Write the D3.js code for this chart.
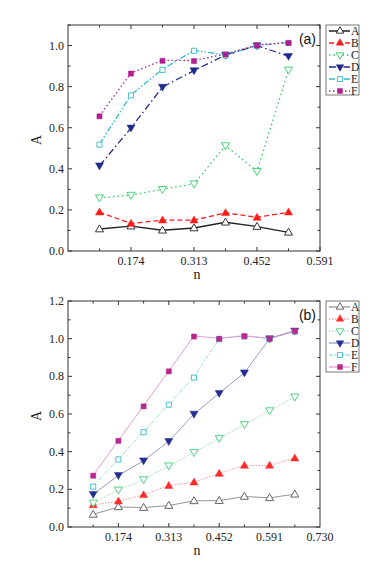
<!DOCTYPE html>
<html lang="en">
<head>
  <meta charset="UTF-8">
  <title>A vs n</title>
  <script src="https://d3js.org/d3.v7.min.js"></script>
  <style>
    body { margin: 0; background: #fff; }
    svg { display: block; }
    .tick-label { font-family: 'Liberation Serif', 'Times New Roman', serif; font-size: 12px; fill: #222; }
    .leg-label { font-family: 'Liberation Serif', serif; font-size: 11.5px; fill: #222; }
    .panel-tag { font-family: 'Liberation Sans', Arial, sans-serif; font-size: 14px; fill: #111; }
  </style>
</head>
<body>
<div id="chart"></div>
<script>
// series names
const seriesNames = ["A", "B", "C", "D", "E", "F"];

// panel (a) data
const nA = [0.1045, 0.174, 0.2435, 0.313, 0.3825, 0.452, 0.5215];
const aA = [0.107, 0.121, 0.101, 0.112, 0.140, 0.119, 0.091];
const aB = [0.189, 0.134, 0.150, 0.150, 0.186, 0.164, 0.189];
const aC = [0.259, 0.272, 0.300, 0.327, 0.513, 0.388, 0.881];
const aD = [0.415, 0.599, 0.798, 0.878, 0.954, 1.000, 0.948];
const aE = [0.520, 0.760, 0.884, 0.977, 0.954, 1.000, 1.015];
const aF = [0.658, 0.866, 0.928, 0.927, 0.959, 1.003, 1.015];

// panel (b) data
const nB = [0.1045, 0.174, 0.2435, 0.313, 0.3825, 0.452, 0.5215, 0.591, 0.6605];
const bA = [0.067, 0.107, 0.103, 0.114, 0.139, 0.140, 0.162, 0.155, 0.174];
const bB = [0.117, 0.137, 0.171, 0.220, 0.238, 0.284, 0.327, 0.327, 0.366];
const bC = [0.128, 0.197, 0.252, 0.325, 0.396, 0.472, 0.544, 0.618, 0.691];
const bD = [0.174, 0.274, 0.352, 0.455, 0.600, 0.710, 0.819, 1.000, 1.041];
const bE = [0.217, 0.361, 0.506, 0.652, 0.796, 1.000, 1.014, 1.000, 1.040];
const bF = [0.275, 0.460, 0.643, 0.829, 1.014, 1.002, 1.016, 1.002, 1.043];

// tick labels
const xTicksA = [0.174, 0.313, 0.452, 0.591];
const xTicksB = [0.174, 0.313, 0.452, 0.591, 0.730];
const yTicksA = [0.0, 0.2, 0.4, 0.6, 0.8, 1.0];
const yTicksB = [0.0, 0.2, 0.4, 0.6, 0.8, 1.0, 1.2];

// marker / colour per series
const colorsA = ["#222222", "#ff1a1a", "#33cc66", "#1f2a8a", "#33bbcc", "#b01f8f"];
const colorsB = ["#555555", "#ff2a2a", "#44cc77", "#232e92", "#33bbcc", "#b8278f"];
const lineColorsB = ["#666666", "#ff6a6a", "#66d690", "#6a70b8", "#5cc8d6", "#e070c0"];
const symbols = [d3.symbolTriangle, d3.symbolTriangle, d3.symbolTriangle, d3.symbolTriangle, d3.symbolSquare, d3.symbolSquare];
const filled = [false, true, false, true, false, true];
const flipped = [false, false, true, true, false, false];
const dashA = [null, "5,3", "1.5,3", "7,3,1.5,3", "6,2,1.5,2,1.5,2", "1.5,2.5"];
const dashB = [null, "1.5,1.5", "1.5,1.5", null, "4,1.5,1.5,1.5", null];

const W = 374, H = 562;
const svg = d3.select("#chart").append("svg").attr("width", W).attr("height", H);

function drawPanel(cfg) {
  const g = svg.append("g");
  const x = d3.scaleLinear().domain(cfg.xDomain).range([cfg.left, cfg.right]);
  const y = d3.scaleLinear().domain(cfg.yDomain).range([cfg.bottom, cfg.top]);

  // frame
  g.append("rect")
    .attr("x", cfg.left).attr("y", cfg.top)
    .attr("width", cfg.right - cfg.left).attr("height", cfg.bottom - cfg.top)
    .attr("fill", "none").attr("stroke", "#333").attr("stroke-width", 1);

  // x ticks (major + minor), inward on bottom and top
  cfg.xMinor.forEach(v => {
    const major = cfg.xTicks.some(t => Math.abs(t - v) < 1e-6);
    const len = major ? 4 : 2.5;
    g.append("line").attr("x1", x(v)).attr("x2", x(v))
      .attr("y1", cfg.bottom).attr("y2", cfg.bottom - len).attr("stroke", "#333");
    g.append("line").attr("x1", x(v)).attr("x2", x(v))
      .attr("y1", cfg.top).attr("y2", cfg.top + len).attr("stroke", "#333");
  });
  cfg.xTicks.forEach(v => {
    g.append("text").attr("class", "tick-label")
      .attr("x", x(v)).attr("y", cfg.bottom + 14)
      .attr("text-anchor", "middle").text(v.toFixed(3));
  });

  // y ticks
  d3.range(cfg.yDomain[0], cfg.yDomain[1] + 1e-6, 0.1).forEach(v => {
    const major = Math.abs(Math.round(v * 10) % 2) === 0;
    const len = major ? 4 : 2.5;
    g.append("line").attr("x1", cfg.left).attr("x2", cfg.left + len)
      .attr("y1", y(v)).attr("y2", y(v)).attr("stroke", "#333");
    g.append("line").attr("x1", cfg.right).attr("x2", cfg.right - len)
      .attr("y1", y(v)).attr("y2", y(v)).attr("stroke", "#333");
  });
  cfg.yTicks.forEach(v => {
    g.append("text").attr("class", "tick-label")
      .attr("x", cfg.left - 4).attr("y", y(v) + 4)
      .attr("text-anchor", "end").text(v.toFixed(1));
  });

  // axis titles
  g.append("text").attr("class", "tick-label")
    .style("font-size", "14px")
    .attr("transform", `translate(${cfg.left - 27},${(cfg.top + cfg.bottom) / 2 + 2}) rotate(-90)`)
    .attr("text-anchor", "middle").text("A");
  g.append("text").attr("class", "tick-label")
    .style("font-size", "14px")
    .attr("x", (cfg.left + cfg.right) / 2 + 3).attr("y", cfg.bottom + 28)
    .attr("text-anchor", "middle").text("n");

  // panel tag
  g.append("text").attr("class", "panel-tag")
    .attr("x", cfg.right - 4).attr("y", cfg.top + 19)
    .attr("text-anchor", "end").text(cfg.tag);

  const line = d3.line().x(d => x(d[0])).y(d => y(d[1]));

  cfg.series.forEach((vals, i) => {
    const pts = cfg.xs.map((n, k) => [n, vals[k]]);
    g.append("path").datum(pts)
      .attr("d", line)
      .attr("fill", "none")
      .attr("stroke", cfg.lineColors[i])
      .attr("stroke-width", cfg.lineWidth)
      .attr("stroke-dasharray", cfg.dash[i]);
  });
  cfg.series.forEach((vals, i) => {
    const sym = d3.symbol().type(symbols[i]).size(symbols[i] === d3.symbolSquare ? 26 : 28);
    g.selectAll(null).data(cfg.xs.map((n, k) => [n, vals[k]])).enter()
      .append("path")
      .attr("d", sym)
      .attr("transform", d => `translate(${x(d[0])},${y(d[1]) + (flipped[i] ? -0.5 : 0.5)})${flipped[i] ? " rotate(180)" : ""}`)
      .attr("fill", filled[i] ? cfg.colors[i] : "#fff")
      .attr("stroke", cfg.colors[i])
      .attr("stroke-width", filled[i] ? 0.5 : 0.9);
  });

  // legend
  const L = cfg.legend;
  g.append("rect").attr("x", L.x).attr("y", L.y).attr("width", L.w).attr("height", L.h)
    .attr("fill", "#fff").attr("stroke", "#555").attr("stroke-width", 0.8);
  seriesNames.forEach((name, i) => {
    const ly = L.y + 6 + i * L.step;
    g.append("line").attr("x1", L.x + 3).attr("x2", L.x + 24)
      .attr("y1", ly).attr("y2", ly)
      .attr("stroke", cfg.lineColors[i]).attr("stroke-width", cfg.lineWidth + 0.2)
      .attr("stroke-dasharray", cfg.dash[i]);
    const sym = d3.symbol().type(symbols[i]).size(24);
    g.append("path").attr("d", sym)
      .attr("transform", `translate(${L.x + 14},${ly})${flipped[i] ? " rotate(180)" : ""}`)
      .attr("fill", filled[i] ? cfg.colors[i] : "#fff")
      .attr("stroke", cfg.colors[i]).attr("stroke-width", filled[i] ? 0.5 : 0.9);
    g.append("text").attr("class", "leg-label")
      .attr("x", L.x + 25).attr("y", ly + 4).text(name);
  });
}

drawPanel({
  tag: "(a)",
  left: 68, right: 320, top: 25, bottom: 251,
  xDomain: [0.035, 0.591], yDomain: [0, 1.1],
  xTicks: xTicksA, yTicks: yTicksA,
  xMinor: d3.range(0, 8).map(k => 0.1045 + k * 0.0695).filter(v => v < 0.6),
  xs: nA, series: [aA, aB, aC, aD, aE, aF],
  colors: colorsA, lineColors: colorsA, dash: dashA, lineWidth: 1.3,
  legend: { x: 326, y: 25, w: 33, h: 70, step: 12 }
});

drawPanel({
  tag: "(b)",
  left: 68, right: 320, top: 301, bottom: 527,
  xDomain: [0.035, 0.730], yDomain: [0, 1.2],
  xTicks: xTicksB, yTicks: yTicksB,
  xMinor: d3.range(0, 10).map(k => 0.1045 + k * 0.0695).filter(v => v < 0.73),
  xs: nB, series: [bA, bB, bC, bD, bE, bF],
  colors: colorsB, lineColors: lineColorsB, dash: dashB, lineWidth: 0.7,
  legend: { x: 326, y: 301, w: 33, h: 71, step: 12 }
});
</script>
</body>
</html>
